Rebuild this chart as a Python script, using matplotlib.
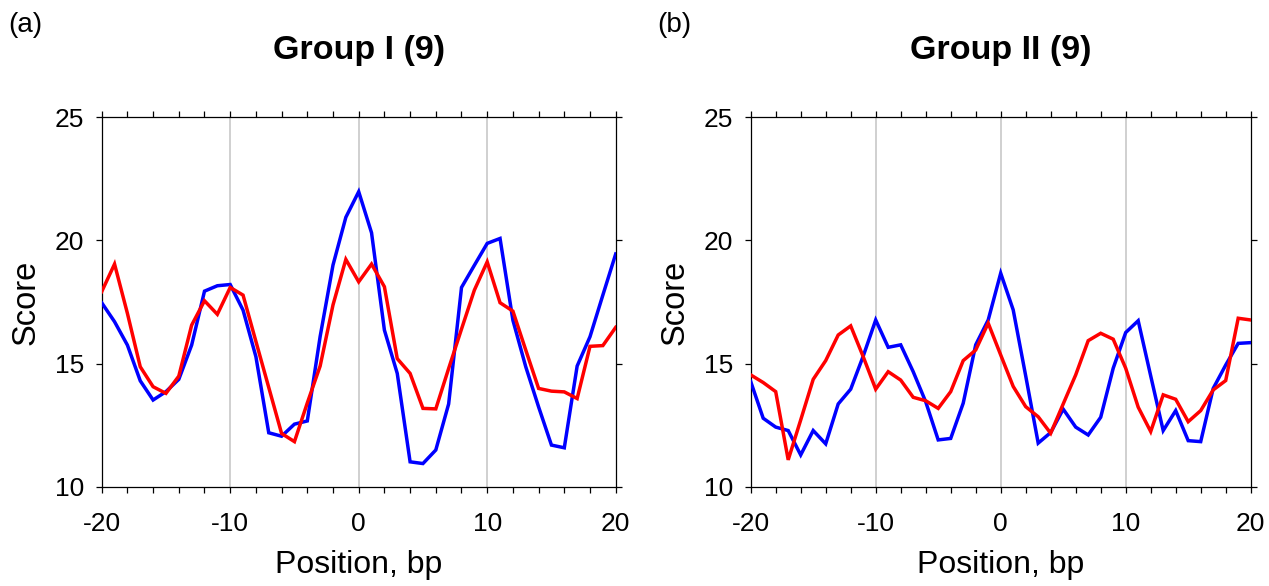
import matplotlib
matplotlib.use("Agg")
import matplotlib.pyplot as plt
from matplotlib.ticker import MultipleLocator, FixedLocator

plt.rcParams['font.family'] = ['Liberation Sans', 'DejaVu Sans']
plt.rcParams['axes.unicode_minus'] = False

positions = list(range(-20, 21))

group1_blue = [17.47, 16.70, 15.75, 14.30, 13.52, 13.86, 14.36, 15.75, 17.94, 18.16,
               18.21, 17.17, 15.28, 12.19, 12.05, 12.54, 12.67, 16.10, 19.00, 20.94,
               21.98, 20.31, 16.36, 14.60, 11.01, 10.94, 11.49, 13.36, 18.09, 18.99,
               19.88, 20.08, 16.76, 14.87, 13.24, 11.69, 11.58, 14.90, 16.09, 17.78,
               19.45]
group1_red = [17.92, 19.04, 17.04, 14.87, 14.06, 13.79, 14.49, 16.56, 17.55, 17.00,
              18.09, 17.78, 15.90, 14.03, 12.16, 11.83, 13.40, 14.90, 17.38, 19.23,
              18.32, 19.04, 18.12, 15.20, 14.60, 13.18, 13.16, 14.80, 16.40, 17.98,
              19.13, 17.47, 17.13, 15.55, 13.99, 13.88, 13.85, 13.58, 15.70, 15.73,
              16.47]
group2_blue = [14.27, 12.78, 12.42, 12.28, 11.29, 12.28, 11.74, 13.36, 13.96, 15.30,
               16.77, 15.66, 15.76, 14.67, 13.45, 11.90, 11.96, 13.39, 15.76, 16.77,
               18.67, 17.18, 14.50, 11.77, 12.20, 13.15, 12.42, 12.10, 12.82, 14.81,
               16.26, 16.74, 14.50, 12.28, 13.09, 11.87, 11.83, 13.99, 14.94, 15.82,
               15.85]
group2_red = [14.54, 14.23, 13.86, 11.09, 12.71, 14.36, 15.12, 16.16, 16.53, 15.28,
              13.96, 14.67, 14.33, 13.63, 13.49, 13.18, 13.86, 15.12, 15.55, 16.64,
              15.35, 14.07, 13.25, 12.84, 12.17, 13.36, 14.54, 15.93, 16.23, 15.99,
              14.81, 13.23, 12.24, 13.73, 13.55, 12.64, 13.09, 13.93, 14.31, 16.84,
              16.77]

titles = ["Group I (9)", "Group II (9)"]
panel_tags = ["(a)", "(b)"]
x_label = "Position, bp"
y_label = "Score"
x_ticks = [-20, -10, 0, 10, 20]
y_ticks = [10, 15, 20, 25]
grid_x = [-10, 0, 10]

W, H = 1269, 586
fig = plt.figure(figsize=(W / 100, H / 100), dpi=100)

axes_px = [(101.7, 615.7), (750.7, 1250.7)]
top_px, bot_px = 117.3, 486.7
tag_px = [(8, 25), (657, 25)]

data = [(group1_blue, group1_red), (group2_blue, group2_red)]

for i, ((l, r), (blue, red)) in enumerate(zip(axes_px, data)):
    ax = fig.add_axes([l / W, (H - bot_px) / H, (r - l) / W, (bot_px - top_px) / H])
    for gx in grid_x:
        ax.axvline(gx, color='#c8c8c8', lw=1.2, zorder=0)
    ax.plot(positions, blue, color='#0000ff', lw=2.5, zorder=3, solid_joinstyle='miter')
    ax.plot(positions, red, color='#ff0000', lw=2.5, zorder=4, solid_joinstyle='miter')
    ax.set_xlim(-20, 20)
    ax.set_ylim(10, 25)
    ax.xaxis.set_major_locator(FixedLocator(x_ticks))
    ax.xaxis.set_minor_locator(MultipleLocator(2))
    ax.yaxis.set_major_locator(FixedLocator(y_ticks))
    ax.tick_params(axis='both', which='both', direction='out', length=4.5, width=0.9,
                   top=True, right=True, labeltop=False, labelright=False,
                   color='black')
    ax.tick_params(axis='x', which='major', labelsize=19, pad=14)
    ax.tick_params(axis='y', which='major', labelsize=19, pad=8)
    for s in ax.spines.values():
        s.set_linewidth(0.9)
        s.set_color('black')
    ax.set_xlabel(x_label, fontsize=23, labelpad=10)
    ax.set_ylabel(y_label, fontsize=23.5, labelpad=10)
    ax.set_title(titles[i], fontsize=24.5, fontweight='bold', pad=42)
    fig.text(tag_px[i][0] / W, 1 - tag_px[i][1] / H, panel_tags[i], fontsize=20,
             ha='left', va='center')

fig.savefig("out.png", dpi=100)
